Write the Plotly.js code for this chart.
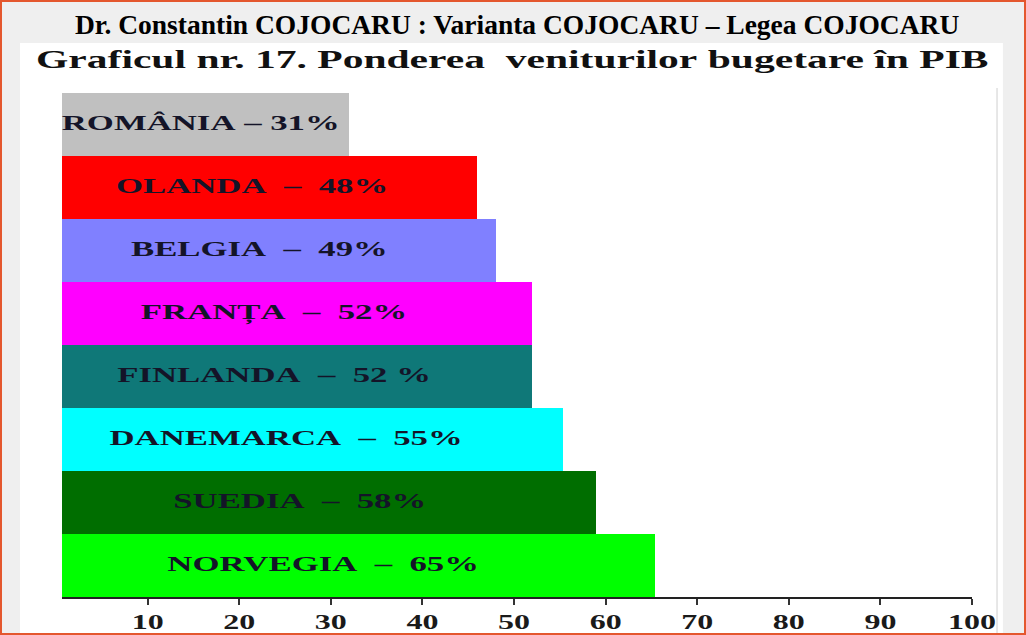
<!DOCTYPE html>
<html>
<head>
<meta charset="utf-8">
<script src="https://cdn.plot.ly/plotly-3.0.1.min.js"></script>
<style>
  body { margin: 0; background: #efefef; }
  #chart { width: 1026px; height: 635px; }
  #frame { position: absolute; left: 0; top: 0; width: 1026px; height: 635px;
           box-sizing: border-box; border: 2px solid #e4572e; pointer-events: none; }
</style>
</head>
<body>
<div id="chart"></div>
<div id="frame"></div>
<script>
var countries = ['ROMÂNIA', 'OLANDA', 'BELGIA', 'FRANȚA', 'FINLANDA', 'DANEMARCA', 'SUEDIA', 'NORVEGIA'];
var values = [32, 46, 48, 52, 52, 55.3, 59, 65.4];
var labels = ['ROMÂNIA – 31%', 'OLANDA  –  48%', 'BELGIA  –  49%', 'FRANȚA  –  52%',
              'FINLANDA  –  52 %', 'DANEMARCA  –  55%', 'SUEDIA  –  58%', 'NORVEGIA  –  65%'];
var colors = ['#c0c0c0', '#ff0000', '#8080ff', '#ff00ff', '#0f7878', '#00ffff', '#006e00', '#00ff00'];
var tickValues = [10, 20, 30, 40, 50, 60, 70, 80, 90, 100];

var title = 'Dr. Constantin COJOCARU : Varianta COJOCARU – Legea COJOCARU';
var subtitle = 'Graficul nr. 17. Ponderea  veniturilor bugetare în PIB';

var serif = 'Liberation Serif, Times New Roman, serif';

function nb(s) {
    return s.replace(/ /g, '\u00a0');
}

var bars = {
    type: 'bar',
    orientation: 'h',
    y: countries,
    x: values,
    marker: { color: colors, line: { width: 0 } },
    hoverinfo: 'skip'
};

// labels sit a little left of each bar's middle, as in the original
var barLabels = {
    type: 'scatter',
    mode: 'text',
    y: countries,
    x: values.map(function (v) { return v * 0.40 + 3; }),
    text: labels.map(nb),
    textposition: 'middle center',
    textfont: { family: serif, size: 22, color: '#141428', weight: 'bold' },
    hoverinfo: 'skip',
    cliponaxis: false
};

var layout = {
    width: 1026,
    height: 635,
    margin: { l: 62, r: 54, t: 93, b: 38 },
    paper_bgcolor: '#efefef',
    plot_bgcolor: '#ffffff',
    bargap: 0,
    showlegend: false,
    title: {
        text: title,
        font: { family: serif, size: 27.5, color: '#000000', weight: 'bold' },
        xref: 'container', x: 0.504, xanchor: 'center',
        yref: 'container', y: 0.962, yanchor: 'middle'
    },
    xaxis: {
        range: [0.65, 100],
        tickvals: tickValues,
        ticks: 'outside',
        ticklen: 6,
        tickwidth: 2,
        tickcolor: '#333333',
        showline: true,
        linecolor: '#222222',
        linewidth: 2,
        showgrid: false,
        zeroline: false,
        tickfont: { family: serif, size: 20, color: '#1a1a1a', weight: 'bold' }
    },
    yaxis: {
        autorange: 'reversed',
        showticklabels: false,
        showgrid: false,
        zeroline: false,
        showline: false,
        ticks: ''
    },
    annotations: [{
        text: nb(subtitle),
        xref: 'paper', yref: 'paper',
        x: 0.4956, y: 1.0655,
        xanchor: 'center', yanchor: 'middle',
        showarrow: false,
        font: { family: serif, size: 25.5, color: '#111111', weight: 'bold' }
    }],
    shapes: [
        // white panel behind the chart
        { type: 'rect', xref: 'paper', yref: 'paper', layer: 'below',
          x0: -0.0462, x1: 1.034, y0: -0.09, y1: 1.099,
          fillcolor: '#ffffff', line: { width: 0 } },
        // faint edge line on the right
        { type: 'line', xref: 'paper', yref: 'paper',
          x0: 1.0275, x1: 1.0275, y0: 1.0099, y1: -0.09,
          line: { color: '#cfcfcf', width: 1 } }
    ]
};

// the original picture is stretched sideways, so widen its texts around their centres
function stretch(selector, s) {
    document.querySelectorAll(selector).forEach(function (t) {
        var b = t.getBBox();
        var cx = b.x + b.width / 2;
        var tr = t.getAttribute('transform') || '';
        t.setAttribute('transform', tr + ' translate(' + cx + ',0) scale(' + s + ',1) translate(' + (-cx) + ',0)');
    });
}

var config = { displayModeBar: false, staticPlot: true };
Plotly.newPlot('chart', [bars, barLabels], layout, config).then(function () {
    stretch('.textpoint text', 1.58);
    stretch('.xtick text', 1.6);
    stretch('.annotation-text', 1.63);
});
</script>
</body>
</html>
